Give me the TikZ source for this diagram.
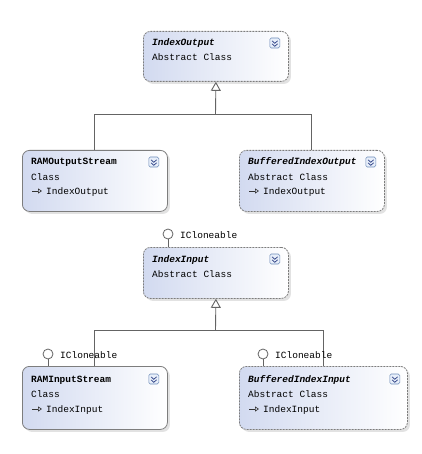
\documentclass[tikz,border=0pt]{standalone}
\usepackage{fontspec}
\setmonofont{Liberation Mono}
\usetikzlibrary{calc,shadows,arrows.meta}
\definecolor{boxleft}{RGB}{210,218,240}
\definecolor{boxborder}{RGB}{125,125,125}
\definecolor{linecol}{RGB}{100,100,100}
\definecolor{btnborder}{RGB}{110,140,185}
\definecolor{btnfill}{RGB}{232,239,250}
\definecolor{chev}{RGB}{40,60,130}
\tikzset{
  classbox/.style={rectangle, rounded corners=7pt, left color=boxleft, right color=white,
    draw=boxborder, line width=0.8pt,
    drop shadow={shadow xshift=2.5pt, shadow yshift=-2.5pt, fill=black!22},
    inner sep=0pt, anchor=north west},
  abstractbox/.style={classbox, dash pattern=on 2pt off 1pt},
  txt/.style={font=\ttfamily\fontsize{9.5}{11}\selectfont, inner sep=0pt, anchor=base west, text=black},
  titletxt/.style={txt, font=\ttfamily\bfseries\fontsize{9.5}{11}\selectfont, text=black},
  abstitle/.style={txt, font=\ttfamily\bfseries\itshape\fontsize{9.5}{11}\selectfont, text=black},
  btn/.style={rectangle, rounded corners=1.5pt, draw=btnborder, fill=btnfill, line width=0.6pt,
    minimum width=10pt, minimum height=10pt, inner sep=0pt},
  conn/.style={draw=linecol, line width=0.9pt},
  inherit/.style={conn, -{Triangle[open, width=10pt, length=9pt, fill=white]}},
  lolli/.style={circle, draw=linecol, fill=white, line width=0.8pt, minimum size=10pt, inner sep=0pt},
  baseicon/.style={draw=black!80, line width=0.6pt, -{Triangle[open, width=5pt, length=4pt]}}
}
\newcommand{\chevrons}[1]{%
  \draw[chev, line width=0.7pt] ($(#1.center)+(-2.8,-2.2)$) -- ($(#1.center)+(0,0.3)$) -- ($(#1.center)+(2.8,-2.2)$);
  \draw[chev, line width=0.7pt] ($(#1.center)+(-2.8,0.8)$) -- ($(#1.center)+(0,3.3)$) -- ($(#1.center)+(2.8,0.8)$);
}
\begin{document}
\begin{tikzpicture}[x=1pt, y=-1pt]
\useasboundingbox[fill=white] (0,0) rectangle (421,454);

% ---------- boxes ----------
\node[abstractbox, minimum width=145pt, minimum height=50pt] (idxout) at (143,31) {};
\node[classbox, minimum width=145pt, minimum height=61pt] (ramout) at (22,150) {};
\node[abstractbox, minimum width=145pt, minimum height=61pt] (bufout) at (239,150) {};
\node[abstractbox, minimum width=145pt, minimum height=51pt] (idxin) at (143,247) {};
\node[classbox, minimum width=145pt, minimum height=63pt] (ramin) at (22,366) {};
\node[abstractbox, minimum width=168pt, minimum height=63pt] (bufin) at (239,366) {};

% ---------- texts ----------
\node[abstitle] (t1) at ($(idxout.north west)+(9,15)$) {IndexOutput};
\node[txt] (t1b) at ($(idxout.north west)+(9,30)$) {Abstract Class};

\node[titletxt] (t2) at ($(ramout.north west)+(9,15)$) {RAMOutputStream};
\node[txt] (t2b) at ($(ramout.north west)+(9,30)$) {Class};
\node[txt] (t2c) at ($(ramout.north west)+(24,44)$) {IndexOutput};

\node[abstitle] (t3) at ($(bufout.north west)+(9,15)$) {BufferedIndexOutput};
\node[txt] (t3b) at ($(bufout.north west)+(9,30)$) {Abstract Class};
\node[txt] (t3c) at ($(bufout.north west)+(24,44)$) {IndexOutput};

\node[abstitle] (t4) at ($(idxin.north west)+(9,15)$) {IndexInput};
\node[txt] (t4b) at ($(idxin.north west)+(9,30)$) {Abstract Class};

\node[titletxt] (t5) at ($(ramin.north west)+(9,16)$) {RAMInputStream};
\node[txt] (t5b) at ($(ramin.north west)+(9,31)$) {Class};
\node[txt] (t5c) at ($(ramin.north west)+(24,46)$) {IndexInput};

\node[abstitle] (t6) at ($(bufin.north west)+(9,16)$) {BufferedIndexInput};
\node[txt] (t6b) at ($(bufin.north west)+(9,31)$) {Abstract Class};
\node[txt] (t6c) at ($(bufin.north west)+(24,46)$) {IndexInput};

% base-type icons
\coordinate (i2a) at ($(ramout.north west)+(10,41)$);
\coordinate (i2b) at ($(ramout.north west)+(20,41)$);
\draw[baseicon] (i2a) -- (i2b);
\coordinate (i3a) at ($(bufout.north west)+(10,41)$);
\coordinate (i3b) at ($(bufout.north west)+(20,41)$);
\draw[baseicon] (i3a) -- (i3b);
\coordinate (i5a) at ($(ramin.north west)+(10,43)$);
\coordinate (i5b) at ($(ramin.north west)+(20,43)$);
\draw[baseicon] (i5a) -- (i5b);
\coordinate (i6a) at ($(bufin.north west)+(10,43)$);
\coordinate (i6b) at ($(bufin.north west)+(20,43)$);
\draw[baseicon] (i6a) -- (i6b);

% ---------- expand buttons ----------
\node[btn] (b1) at ($(idxout.north east)+(-14,12)$) {};
\chevrons{b1}
\node[btn] (b2) at ($(ramout.north east)+(-14,12)$) {};
\chevrons{b2}
\node[btn] (b3) at ($(bufout.north east)+(-14,12)$) {};
\chevrons{b3}
\node[btn] (b4) at ($(idxin.north east)+(-14,12)$) {};
\chevrons{b4}
\node[btn] (b5) at ($(ramin.north east)+(-14,13)$) {};
\chevrons{b5}
\node[btn] (b6) at ($(bufin.north east)+(-13,13)$) {};
\chevrons{b6}

% ---------- inheritance ----------
\coordinate (jo) at (215.5,114);
\draw[conn] (ramout.north) |- (jo);
\draw[conn] (bufout.north) |- (jo);
\draw[inherit] (jo) -- (idxout.south);

\coordinate (ji) at (215.5,330);
\draw[conn] (ramin.north) |- (ji);
\draw[conn] (bufin.north) |- (ji);
\draw[inherit] (ji) -- (idxin.south);

% ---------- interface lollipops ----------
\node[lolli] (l1) at (168,234) {};
\node[txt] (l1t) at (180,238) {ICloneable};
\draw[conn] (l1.south) -- (l1.south |- idxin.north);

\node[lolli] (l2) at (48,354) {};
\node[txt] (l2t) at (60,358) {ICloneable};
\draw[conn] (l2.south) -- (l2.south |- ramin.north);

\node[lolli] (l3) at (263,354) {};
\node[txt] (l3t) at (275,358) {ICloneable};
\draw[conn] (l3.south) -- (l3.south |- bufin.north);
\end{tikzpicture}
\end{document}
